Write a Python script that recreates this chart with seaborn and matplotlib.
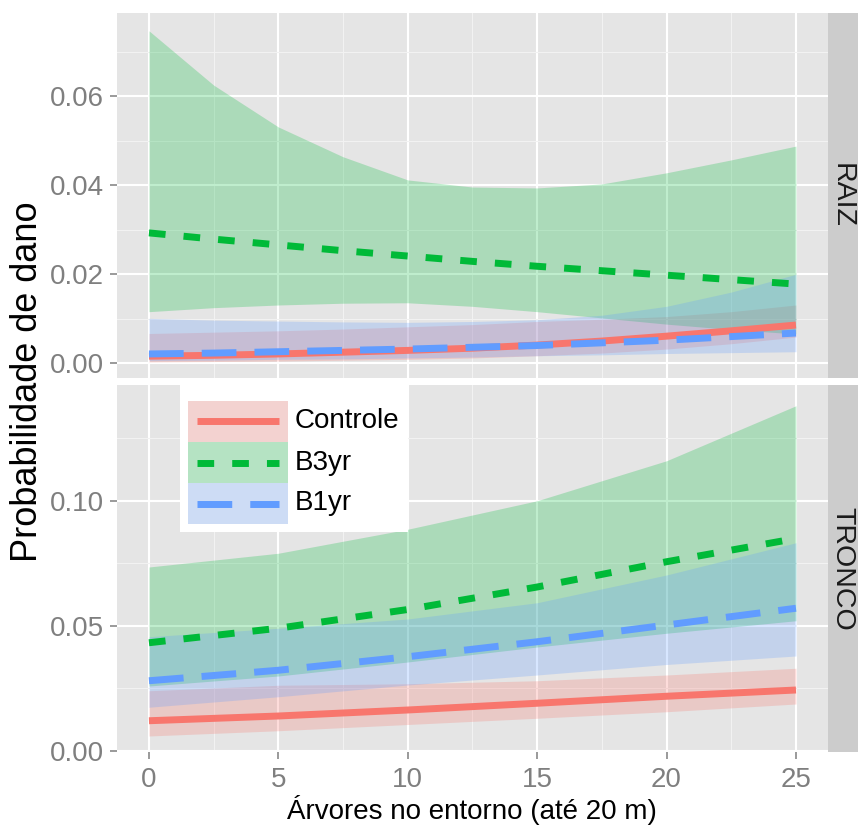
import numpy as np
import pandas as pd
import matplotlib
matplotlib.use("Agg")
import matplotlib.pyplot as plt
from matplotlib.patches import Rectangle
from matplotlib.lines import Line2D
import seaborn as sns

plt.rcParams['font.family'] = ['Liberation Sans', 'DejaVu Sans']

# ---------------- data ----------------
treatments = ["Controle", "B3yr", "B1yr"]
colors = {"Controle": "#F8766D", "B3yr": "#00BA38", "B1yr": "#619CFF"}
facets = ["RAIZ", "TRONCO"]

x_raiz = [0, 2.5, 5, 7.5, 10, 12.5, 15, 17.5, 20, 22.5, 25]
raiz_controle = [0.0016, 0.0018, 0.0021, 0.0025, 0.0029, 0.0034, 0.0041, 0.0050, 0.0061, 0.0073, 0.0086]
raiz_controle_hi = [0.0067, 0.0070, 0.0073, 0.0077, 0.0082, 0.0087, 0.0094, 0.0099, 0.0105, 0.0116, 0.0131]
raiz_controle_lo = [0.0003, 0.0004, 0.0005, 0.0007, 0.0009, 0.0012, 0.0017, 0.0023, 0.0032, 0.0044, 0.0059]
raiz_b3yr = [0.0293, 0.0279, 0.0266, 0.0253, 0.0241, 0.0229, 0.0218, 0.0208, 0.0198, 0.0188, 0.0178]
raiz_b3yr_hi = [0.0747, 0.0625, 0.0531, 0.0464, 0.0412, 0.0396, 0.0394, 0.0403, 0.0428, 0.0457, 0.0488]
raiz_b3yr_lo = [0.0116, 0.0125, 0.0131, 0.0135, 0.0136, 0.0128, 0.0116, 0.0102, 0.0088, 0.0076, 0.0066]
raiz_b1yr = [0.0021, 0.0023, 0.0026, 0.0029, 0.0032, 0.0036, 0.0040, 0.0046, 0.0052, 0.0060, 0.0068]
raiz_b1yr_hi = [0.0101, 0.0097, 0.0095, 0.0093, 0.0092, 0.0094, 0.0098, 0.0108, 0.0128, 0.0160, 0.0200]
raiz_b1yr_lo = [0.0006, 0.0007, 0.0009, 0.0010, 0.0012, 0.0014, 0.0017, 0.0019, 0.0022, 0.0024, 0.0026]

x_tronco = [0, 5, 10, 15, 20, 25]
tronco_controle = [0.0120, 0.0139, 0.0163, 0.0190, 0.0218, 0.0243]
tronco_controle_hi = [0.0240, 0.0262, 0.0268, 0.0280, 0.0303, 0.0330]
tronco_controle_lo = [0.0059, 0.0080, 0.0105, 0.0130, 0.0156, 0.0187]
tronco_b3yr = [0.0432, 0.0490, 0.0565, 0.0655, 0.0756, 0.0849]
tronco_b3yr_hi = [0.0735, 0.0790, 0.0886, 0.1000, 0.1160, 0.1380]
tronco_b3yr_lo = [0.0259, 0.0299, 0.0355, 0.0415, 0.0470, 0.0520]
tronco_b1yr = [0.0280, 0.0322, 0.0376, 0.0436, 0.0503, 0.0570]
tronco_b1yr_hi = [0.0456, 0.0490, 0.0527, 0.0592, 0.0703, 0.0832]
tronco_b1yr_lo = [0.0174, 0.0216, 0.0263, 0.0303, 0.0345, 0.0379]

x_ticks = [0, 5, 10, 15, 20, 25]
raiz_yticks = [0.00, 0.02, 0.04, 0.06]
tronco_yticks = [0.00, 0.05, 0.10]

# build long table
rows = []
series = {
    "RAIZ": (x_raiz, {"Controle": (raiz_controle, raiz_controle_lo, raiz_controle_hi),
                      "B3yr": (raiz_b3yr, raiz_b3yr_lo, raiz_b3yr_hi),
                      "B1yr": (raiz_b1yr, raiz_b1yr_lo, raiz_b1yr_hi)}),
    "TRONCO": (x_tronco, {"Controle": (tronco_controle, tronco_controle_lo, tronco_controle_hi),
                          "B3yr": (tronco_b3yr, tronco_b3yr_lo, tronco_b3yr_hi),
                          "B1yr": (tronco_b1yr, tronco_b1yr_lo, tronco_b1yr_hi)}),
}
for fac, (xs, d) in series.items():
    for t in treatments:
        fit, lo, hi = d[t]
        for xi, f, l, h in zip(xs, fit, lo, hi):
            rows.append(dict(facet=fac, trat=t, x=xi, fit=f, lo=l, hi=h))
df = pd.DataFrame(rows)

# ---------------- layout ----------------
W, H = 858, 825
fig = plt.figure(figsize=(W / 100, H / 100), dpi=100)


def rect(l, t, r, b):
    return [l / W, 1 - b / H, (r - l) / W, (b - t) / H]


PANEL_BG = "#E5E5E5"
STRIP_BG = "#CCCCCC"
GREY = "#7F7F7F"
LW = 5.0
dashes = {"Controle": None, "B3yr": (2.4, 2.6), "B1yr": (5.0, 2.6)}
ALPHA = 0.25

ax_top = fig.add_axes(rect(116.6, 13, 828.3, 378))
ax_bot = fig.add_axes(rect(116.6, 385, 828.3, 752))
axes = {"RAIZ": ax_top, "TRONCO": ax_bot}
ylims = {"RAIZ": (-0.0033, 0.0787), "TRONCO": (-0.0005, 0.1463)}
yticks = {"RAIZ": raiz_yticks, "TRONCO": tronco_yticks}
yminor = {"RAIZ": [0.01, 0.03, 0.05, 0.07], "TRONCO": [0.025, 0.075, 0.125]}

for fac in facets:
    ax = axes[fac]
    sub = df[df.facet == fac]
    ax.set_facecolor(PANEL_BG)
    ax.set_axisbelow(True)
    for t in treatments:
        s = sub[sub.trat == t]
        ax.fill_between(s.x, s.lo, s.hi, color=colors[t], alpha=ALPHA, lw=0)
    for t in treatments:
        s = sub[sub.trat == t]
        sns.lineplot(x=s.x.values, y=s.fit.values, ax=ax, color=colors[t],
                     linewidth=LW, legend=False, errorbar=None)
        ln = ax.lines[-1]
        ln.set_solid_capstyle("butt")
        if dashes[t] is not None:
            ln.set_dashes(dashes[t])
            ln.set_dash_capstyle("butt")
    ax.set_xlim(-1.25, 26.25)
    ax.set_ylim(*ylims[fac])
    ax.set_xticks(x_ticks)
    ax.set_xticks([2.5, 7.5, 12.5, 17.5, 22.5], minor=True)
    ax.set_yticks(yticks[fac])
    ax.set_yticks(yminor[fac], minor=True)
    ax.set_yticklabels([f"{v:.2f}" for v in yticks[fac]])
    ax.grid(which="major", color="white", lw=1.5)
    ax.grid(which="minor", color="#F2F2F2", lw=0.8)
    for sp in ax.spines.values():
        sp.set_visible(False)
    ax.tick_params(which="major", length=5, width=1.1, color=GREY,
                   labelcolor=GREY, labelsize=20, pad=4)
    ax.tick_params(which="minor", length=0)
    ax.set_xlabel("")
    ax.set_ylabel("")

ax_top.tick_params(axis="x", which="both", length=0, labelbottom=False)
ax_bot.set_xticklabels([str(v) for v in x_ticks])
ax_bot.tick_params(axis="x", pad=6)

# strips
for fac, (t, b) in {"RAIZ": (13, 378), "TRONCO": (385, 752)}.items():
    sax = fig.add_axes(rect(828.3, t, 880, b))
    sax.set_facecolor(STRIP_BG)
    sax.set_xticks([]); sax.set_yticks([])
    for sp in sax.spines.values():
        sp.set_visible(False)
    fig.text(842 / W, 1 - (t + b) / 2 / H, fac, rotation=-90, fontsize=20.5,
             ha="center", va="center", color="#1A1A1A")

# axis titles
fig.text(27.5 / W, 1 - 382 / H, "Probabilidade de dano", rotation=90, fontsize=26,
         ha="center", va="center", color="black")
fig.text(472 / W, 1 - 819 / H, "Árvores no entorno (até 20 m)", fontsize=20,
         ha="center", va="baseline", color="black")

# legend (inside lower panel)
lax = fig.add_axes(rect(180, 385, 408, 532))
lax.set_xlim(180, 408)
lax.set_ylim(532, 385)
lax.axis("off")
lax.add_patch(Rectangle((180, 385), 228, 147, facecolor="white", edgecolor="none"))
key_h = 41.0
for i, t in enumerate(treatments):
    y0 = 401 + i * key_h
    lax.add_patch(Rectangle((188, y0), 100, key_h, facecolor="#F2F2F2", edgecolor="none"))
    lax.add_patch(Rectangle((188, y0), 100, key_h, facecolor=colors[t], alpha=ALPHA,
                            edgecolor="none"))
    ln = Line2D([197, 279], [y0 + key_h / 2] * 2, color=colors[t], lw=LW,
                solid_capstyle="butt")
    if dashes[t] is not None:
        ln.set_dashes(dashes[t])
        ln.set_dash_capstyle("butt")
    lax.add_line(ln)
    lax.text(295, y0 + key_h / 2, t, fontsize=20, ha="left", va="center", color="black")

fig.savefig("out.png", dpi=100)
